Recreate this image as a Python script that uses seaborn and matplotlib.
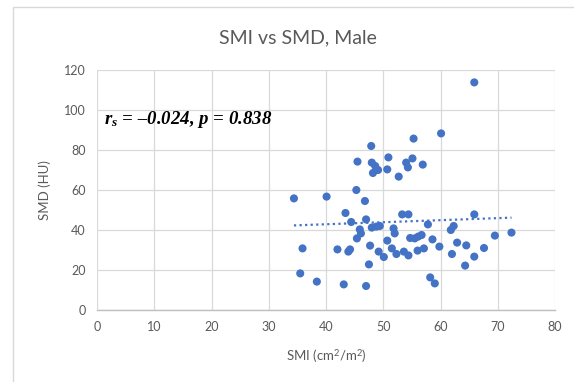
import matplotlib
matplotlib.use("Agg")
import matplotlib.pyplot as plt
import seaborn as sns
import pandas as pd
from matplotlib.patches import Rectangle

smi = [65.9, 60.1, 55.3, 47.9, 50.9, 55.1, 45.5, 48.0, 54.0, 56.9,
       48.6, 54.3, 50.7, 49.1, 48.2, 52.7, 45.3, 34.4, 40.1, 46.8,
       43.4, 53.3, 54.4, 65.9, 47.0, 44.4, 57.8, 49.4, 48.8, 48.0,
       51.8, 45.9, 62.3, 61.8, 72.4, 46.1, 52.0, 69.5, 45.4, 54.7,
       55.5, 56.1, 56.7, 58.6, 50.7, 62.9, 64.5, 47.7, 59.8, 67.6,
       35.9, 51.5, 57.1, 42.0, 44.2, 43.9, 49.2, 53.6, 56.0, 54.4,
       52.3, 62.0, 50.1, 65.9, 47.5, 64.3, 35.5, 58.2, 38.4, 59.0,
       43.1, 47.0]
smd = [113.8, 88.3, 85.7, 82.0, 76.3, 75.8, 74.2, 73.7, 73.7, 72.7,
       72.0, 71.3, 70.3, 70.0, 68.5, 66.7, 60.0, 55.8, 56.7, 54.5,
       48.5, 47.8, 47.8, 47.8, 45.3, 44.0, 42.8, 42.0, 41.7, 41.2,
       40.8, 40.3, 42.0, 40.0, 38.7, 38.3, 38.3, 37.2, 35.8, 36.0,
       35.8, 36.7, 37.5, 35.3, 34.7, 33.7, 32.3, 32.2, 31.7, 31.0,
       30.8, 30.8, 30.8, 30.3, 30.3, 29.2, 29.2, 29.2, 29.7, 27.3,
       28.0, 28.0, 26.5, 26.7, 22.8, 22.2, 18.3, 16.3, 14.2, 13.3,
       12.8, 12.0]
x_ticks = [0, 10, 20, 30, 40, 50, 60, 70, 80]
y_ticks = [0, 20, 40, 60, 80, 100, 120]

title = "SMI vs SMD, Male"
x_label = "SMI (cm$^2$/m$^2$)"
y_label = "SMD (HU)"
stat_text = r"$r_s$ = –0.024, $p$ = 0.838"

df = pd.DataFrame({"SMI": smi, "SMD": smd})

sns.set_theme(style="white")
plt.rcParams["font.family"] = ["Lato", "DejaVu Sans"]
plt.rcParams["mathtext.fontset"] = "custom"
plt.rcParams["mathtext.rm"] = "Lato"
plt.rcParams["mathtext.it"] = "Liberation Serif:italic:bold"

gray = "#595959"
blue = "#4472C4"

fig = plt.figure(figsize=(5.74, 3.82), dpi=100)
ax = fig.add_axes([97/574, 1-310/382, (555-97)/574, (310-70)/382])

sns.regplot(data=df, x="SMI", y="SMD", ax=ax, ci=None, truncate=True,
            scatter_kws=dict(s=34, color=blue, edgecolor="none", alpha=1, zorder=3),
            line_kws=dict(color=blue, linestyle=(0, (1, 1.5)), linewidth=1.6, zorder=2))

ax.set_xlim(0, 80)
ax.set_ylim(0, 120)
ax.set_xticks(x_ticks)
ax.set_yticks(y_ticks)
ax.grid(True, color="#D9D9D9", linewidth=0.9)
ax.set_axisbelow(True)
for s in ["top", "right", "left"]:
    ax.spines[s].set_visible(False)
ax.spines["bottom"].set_color("#BFBFBF")
ax.spines["bottom"].set_linewidth(1.0)
ax.tick_params(axis="both", length=0, labelsize=9, colors=gray, pad=8)
ax.set_xlabel("")
ax.set_ylabel("")

fig.text(326/574, 1-356/382, x_label, ha="center", va="center", fontsize=9.5, color=gray)
fig.text(45/574, 1-190/382, y_label, ha="center", va="center", rotation=90, fontsize=9.5, color=gray)
fig.text(298/574, 1-38/382, title, ha="center", va="center", fontsize=14, color=gray)

ax.text(1.2, 95, stat_text, fontsize=13.6, fontfamily="Liberation Serif",
        fontstyle="italic", fontweight="bold", color="black", ha="left", va="center")

fig.patches.append(Rectangle((13/574, -0.01), 1.0, 1 - 7/382 + 0.01, transform=fig.transFigure,
                             fill=False, edgecolor="#D9D9D9", linewidth=1.0))

fig.savefig("out.png", dpi=100, facecolor="white")
